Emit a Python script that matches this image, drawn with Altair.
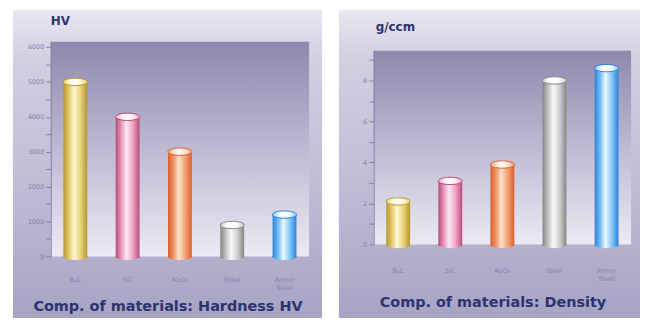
import altair as alt
import pandas as pd

# ---- data ----
categories = ["B₄C", "SiC", "Al₂O₃", "Steel", "Armor Steel"]
hardness = [5000, 4000, 3000, 900, 1200]
density = [2.1, 3.1, 3.9, 8.0, 8.6]
hardness_ticks = list(range(0, 6001, 500))
density_ticks = list(range(0, 10))
unit_titles = ["HV", "g/ccm"]
captions = ["Comp. of materials: Hardness HV", "Comp. of materials: Density"]

# cylinder colours: edge, body, highlight, body, edge
bar_colors = {
    "B₄C": ["#b8962e", "#e6cd6e", "#fdf6d2", "#ead37a", "#b69430"],
    "SiC": ["#b84a78", "#eb9cbe", "#fde9f2", "#eea6c6", "#b84a78"],
    "Al₂O₃": ["#d9602e", "#f4986a", "#fde2cc", "#f6a276", "#d9602e"],
    "Steel": ["#858585", "#c6c6c6", "#fafafa", "#cfcfcf", "#858585"],
    "Armor Steel": ["#2a80dc", "#7cc0f4", "#eef9ff", "#86c8f6", "#2a80dc"],
}

TEXT = "#2b3372"
AXIS = "#837fa6"
LABEL = "#8783a8"
H = 216  # common view height for both panels


def vgrad(stops):
    return alt.Gradient(
        gradient="linear", x1=0, x2=0, y1=0, y2=1,
        stops=[alt.GradientStop(offset=o, color=c) for o, c in stops],
    )


def hgrad(cols):
    offs = [0, 0.25, 0.45, 0.72, 1]
    return alt.Gradient(
        gradient="linear", x1=0, x2=1, y1=0, y2=0,
        stops=[alt.GradientStop(offset=o, color=c) for o, c in zip(offs, cols)],
    )


ELLIPSE = "M-1,0 A1,0.3 0 1,0 1,0 A1,0.3 0 1,0 -1,0 Z"


def panel(values, ticks, ymax, every, w, yrange, box, xpad, unit, unit_xy, caption, cap_xy):
    df = pd.DataFrame({"cat": categories, "val": values})
    df0 = pd.DataFrame({"cat": categories, "val": [0] * len(categories)})
    one = pd.DataFrame({"k": [0]})
    x = alt.X(
        "cat:N",
        scale=alt.Scale(domain=categories, paddingInner=0.54, paddingOuter=0.24),
        axis=alt.Axis(
            title=None, domain=False, ticks=False, labelAngle=0,
            labelExpr="split(datum.label, ' ')", labelFontSize=6.5,
            labelColor=LABEL, labelPadding=xpad, labelFont="DejaVu Sans",
            zindex=1,
        ),
    )
    y = alt.Y(
        "val:Q",
        scale=alt.Scale(domain=[0, ymax], nice=False, zero=True, range=list(yrange)),
        axis=alt.Axis(
            title=None, values=ticks, grid=False, format="d",
            labelExpr=f"datum.value % {every} == 0 ? datum.label : ''",
            domainColor=AXIS, tickColor=AXIS, tickSize=5, labelFontSize=6.5,
            labelColor=LABEL, labelPadding=2, labelFont="DejaVu Sans",
            zindex=1,
        ),
    )
    x0, x1, y0, y1 = box
    outer = alt.Chart(one).mark_rect(
        color=vgrad([(0, "#e9e8f1"), (0.15, "#d2d0e2"), (0.6, "#bebbd4"), (1, "#a7a3c3")])
    ).encode(x=alt.value(x0), x2=alt.value(x1), y=alt.value(y0), y2=alt.value(y1))
    inner = alt.Chart(one).mark_rect(
        color=vgrad([(0, "#8d89ad"), (0.5, "#bdbad3"), (1, "#eceaf3")])
    ).encode(x=alt.value(0), x2=alt.value(w), y=alt.value(yrange[1]), y2=alt.value(yrange[0]))

    layers = [outer, inner]
    for c in categories:
        cols = bar_colors[c]
        flt = alt.datum.cat == c
        layers.append(
            alt.Chart(df0).transform_filter(flt)
            .mark_point(shape=ELLIPSE, size=600, filled=True, fill=hgrad(cols),
                        opacity=1, strokeWidth=0)
            .encode(x=x, y=y)
        )
        layers.append(
            alt.Chart(df).transform_filter(flt)
            .mark_bar(fill=hgrad(cols), size=24).encode(x=x, y=y)
        )
        layers.append(
            alt.Chart(df).transform_filter(flt)
            .mark_point(shape=ELLIPSE, size=600, filled=True,
                        fill=hgrad([cols[1], cols[2], "#ffffff", cols[2], cols[1]]),
                        stroke=cols[0], strokeWidth=1, opacity=1)
            .encode(x=x, y=y)
        )
    layers.append(
        alt.Chart(pd.DataFrame({"t": [unit]})).mark_text(
            font="DejaVu Sans", fontWeight="bold", fontSize=12, color=TEXT,
            align="left", baseline="middle",
        ).encode(x=alt.value(unit_xy[0]), y=alt.value(unit_xy[1]), text="t:N")
    )
    layers.append(
        alt.Chart(pd.DataFrame({"t": [caption]})).mark_text(
            font="DejaVu Sans", fontWeight="bold", fontSize=14.5, color=TEXT,
            align="center", baseline="middle",
        ).encode(x=alt.value(cap_xy[0]), y=alt.value(cap_xy[1]), text="t:N")
    )
    return alt.layer(*layers).properties(width=w, height=H)


left = panel(hardness, hardness_ticks, 6150, 1000, 260, (216, 0),
             (-38, 273, -32, 278), 20, unit_titles[0], (0, -21), captions[0], (118, 267))
right = panel(density, density_ticks, 9.45, 2, 259, (204, 9),
              (-35, 268, -32, 278), 11, unit_titles[1], (2, -15), captions[1], (120, 263))

chart = (
    alt.hconcat(left, right, spacing=15)
    .properties(padding={"left": 4, "top": 0, "right": 0, "bottom": 0})
    .configure_view(strokeWidth=0)
    .configure(background="white")
)

chart.save("out.html", embed_options={"renderer": "svg", "actions": False})
